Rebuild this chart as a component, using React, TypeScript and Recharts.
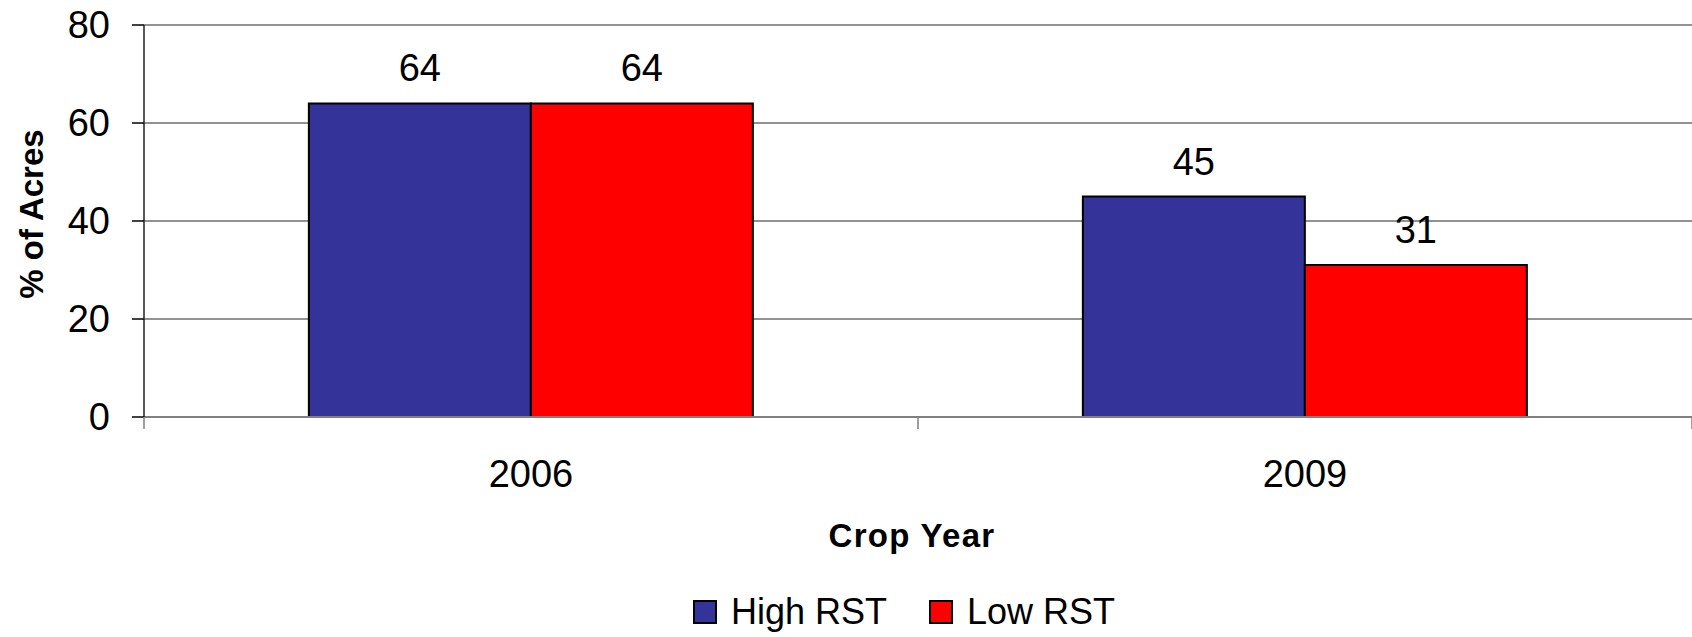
import React from 'react';
import { BarChart, Bar, XAxis, YAxis, CartesianGrid, Legend, LabelList, Label } from 'recharts';

const categories = ['2006', '2009'];
const highRST = [64, 45];
const lowRST = [64, 31];
const yTicks = [0, 20, 40, 60, 80];
const seriesNames = ['High RST', 'Low RST'];
const seriesColors = ['#333399', '#FF0000'];

const data = categories.map((c, i) => ({ year: c, high: highRST[i], low: lowRST[i] }));

const FONT = '"Liberation Sans", Arial, Helvetica, sans-serif';

const XTick = (props: any) => {
  const { x, y, payload, index, visibleTicksCount } = props;
  const off = payload && typeof payload.offset === 'number' ? payload.offset : 0;
  const axisY = y - 43;
  return (
    <g>
      <line x1={x - off} x2={x - off} y1={axisY} y2={axisY + 12} stroke="#808080" strokeWidth={1.5} />
      {index === visibleTicksCount - 1 && (
        <line x1={x + off} x2={x + off} y1={axisY} y2={axisY + 12} stroke="#808080" strokeWidth={1.5} />
      )}
      <text x={x} y={y} dy="0.71em" textAnchor="middle" fontSize={38} fill="#000" fontFamily={FONT}>
        {payload.value}
      </text>
    </g>
  );
};

const LegendContent = () => (
  <div style={{ height: 50, display: 'flex', alignItems: 'center', paddingLeft: 693, fontFamily: FONT, fontSize: 36, color: '#000' }}>
    {seriesNames.map((n, i) => (
      <div key={n} style={{ display: 'flex', alignItems: 'center', marginRight: 42 }}>
        <div style={{ width: 20, height: 20, background: seriesColors[i], border: '2px solid #000', marginRight: 14 }} />
        <span style={{ lineHeight: '50px' }}>{n}</span>
      </div>
    ))}
  </div>
);

export default function App() {
  return (
    <div style={{ position: 'absolute', left: 0, top: 0, width: 1692, height: 637, background: '#fff' }}>
      <BarChart
        width={1692}
        height={637}
        data={data}
        margin={{ top: 25, right: 0, bottom: 0, left: 0 }}
        barCategoryGap="21.3%"
        barGap={0}
      >
        <CartesianGrid vertical={false} stroke="#6e6e6e" strokeWidth={1.5} />
        <XAxis
          dataKey="year"
          height={170}
          tickLine={false}
          tickSize={12}
          tickMargin={31}
          tick={<XTick />}
          axisLine={{ stroke: '#808080', strokeWidth: 2 }}
          interval={0}
        >
          <Label
            content={(p: any) => {
              const vb = p.viewBox;
              return (
                <text x={912} y={vb.y + 129.7} textAnchor="middle" fontSize={33} fontWeight="bold" letterSpacing={1.3} fill="#000" fontFamily={FONT}>
                  Crop Year
                </text>
              );
            }}
          />
        </XAxis>
        <YAxis
          width={144}
          domain={[0, 80]}
          ticks={yTicks}
          tickSize={12}
          tickMargin={22}
          tickLine={{ stroke: '#000', strokeWidth: 1.5 }}
          axisLine={{ stroke: '#222', strokeWidth: 1.5 }}
          tick={{ fontSize: 38, fill: '#000', fontFamily: FONT }}
        >
          <Label
            content={(p: any) => {
              const vb = p.viewBox;
              const cy = vb.y + vb.height / 2 - 7;
              return (
                <text x={31.5} y={cy} transform={`rotate(-90 31.5 ${cy})`} textAnchor="middle" dominantBaseline="central" fontSize={33} fontWeight="bold" fill="#000" fontFamily={FONT}>
                  % of Acres
                </text>
              );
            }}
          />
        </YAxis>
        <Legend verticalAlign="bottom" height={50} content={<LegendContent />} />
        <Bar dataKey="high" name={seriesNames[0]} fill={seriesColors[0]} stroke="#000" strokeWidth={2} isAnimationActive={false}>
          <LabelList dataKey="high" position="top" offset={22} fontSize={38} fill="#000" fontFamily={FONT} />
        </Bar>
        <Bar dataKey="low" name={seriesNames[1]} fill={seriesColors[1]} stroke="#000" strokeWidth={2} isAnimationActive={false}>
          <LabelList dataKey="low" position="top" offset={22} fontSize={38} fill="#000" fontFamily={FONT} />
        </Bar>
      </BarChart>
    </div>
  );
}
